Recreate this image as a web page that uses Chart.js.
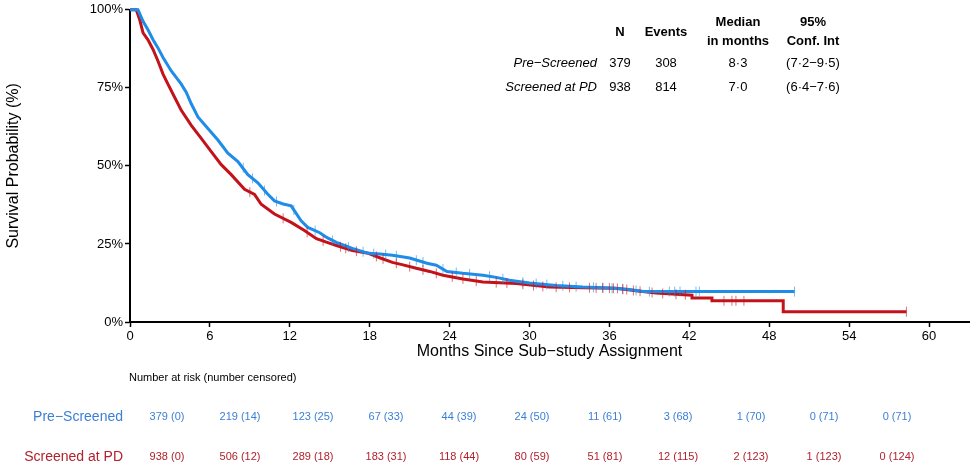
<!DOCTYPE html>
<html lang="en">
<head>
<meta charset="UTF-8">
<title>Survival by screening group</title>
<script src="https://cdn.jsdelivr.net/npm/chart.js"></script>
<style>
    html, body { margin: 0; padding: 0; background: #fff; }
    .chart-container { width: 975px; height: 470px; }
</style>
</head>
<body>
<div class="chart-container">
    <canvas id="kmChart" width="975" height="470"></canvas>
</div>
<script>
// Kaplan-Meier curves (months, survival %)
const preTimes = [0, 0.6, 0.98, 1.35, 1.73, 2.1, 2.48, 3.1, 3.85, 4.22, 4.6, 5.1, 5.85, 6.6, 7.35, 8.1, 8.85, 9.6, 10.35, 10.85, 11.5, 12.1, 12.85, 13.35, 14.25, 14.8, 15.5, 16.1, 16.7, 17.3, 17.9, 18.8, 19.7, 21.0, 22.3, 23.0, 23.8, 25.0, 26.5, 27.5, 28.5, 30.0, 32.0, 34.0, 36.0, 37.5, 38.5, 49.9];
const preSurv  = [100, 100, 96.3, 93.6, 90.4, 87.8, 84.7, 80.4, 76.2, 73.6, 69.9, 65.7, 62, 58.3, 54.1, 51.4, 47.2, 44.6, 40.9, 38.8, 37.8, 37.2, 32.4, 30.3, 28.6, 27, 25.5, 24.5, 23.6, 22.8, 22, 21.8, 21.4, 20.5, 18.8, 18.2, 16.2, 15.6, 15, 14.3, 13.4, 12.5, 11.7, 11.2, 10.9, 10.4, 9.75, 9.75];

const pdTimes = [0, 0.47, 0.73, 0.98, 1.35, 1.73, 2.1, 2.48, 2.85, 3.35, 3.85, 4.6, 5.35, 6.1, 6.85, 7.6, 8.6, 9.35, 9.85, 10.85, 12.1, 13.1, 14.0, 14.8, 15.5, 16.7, 17.9, 18.8, 19.7, 20.5, 21.5, 22.5, 23.5, 25.0, 26.5, 29.0, 31.5, 34.0, 36.5, 38.0, 39.5, 41.0, 42.2, 42.2, 43.7, 43.7, 49.05, 49.05, 58.3];
const pdSurv  = [100, 100, 96.8, 92.6, 90.4, 87.3, 83.6, 79.4, 76.2, 72, 67.8, 63, 58.8, 54.6, 50.4, 47.2, 42.5, 40.9, 37.7, 34.6, 31.9, 29.3, 26.7, 25.5, 24.5, 22.9, 22, 20.5, 19.1, 18.3, 17.2, 16.2, 15, 13.8, 12.8, 12.3, 11.2, 11, 10.8, 10, 9.3, 8.9, 8.6, 7.7, 7.7, 6.8, 6.8, 3.3, 3.3];

// censoring marks (months, survival %)
const preCensorT = [8.5, 9.2, 10.1, 11.0, 12.3, 13.9, 15.2, 16.4, 17.5, 18.3, 19.2, 20.0, 21.5, 22.0, 23.5, 24.5, 25.5, 27.0, 28.0, 29.5, 30.5, 31.3, 32.5, 33.5, 34.8, 35.5, 36.2, 37.0, 38.0, 39.0, 40.5, 40.9, 41.3, 42.5, 42.75, 49.9];
const preCensorS = [49.4, 46.0, 42.1, 38.6, 35.9, 29.3, 26.1, 24.0, 22.5, 21.9, 21.6, 21.2, 19.8, 19.2, 17.0, 15.85, 15.4, 14.65, 13.85, 12.8, 12.3, 12.0, 11.6, 11.3, 11.1, 11.0, 10.8, 10.6, 10.1, 9.75, 9.75, 9.75, 9.75, 9.75, 9.75, 9.75];
const pdCensorT = [9.0, 11.5, 13.3, 14.5, 15.8, 16.2, 17.0, 18.5, 19.0, 20.0, 21.0, 22.0, 23.0, 24.2, 25.0, 26.0, 27.5, 28.3, 29.5, 30.3, 31.0, 32.0, 33.0, 34.5, 35.0, 35.5, 36.0, 36.3, 36.6, 37.0, 37.3, 37.8, 38.3, 39.2, 40.0, 41.0, 41.7, 44.6, 45.2, 45.5, 46.1, 58.3];
const pdCensorS = [41.6, 33.2, 28.7, 26.0, 24.1, 23.6, 22.7, 21.0, 20.2, 18.8, 17.75, 16.7, 15.6, 14.45, 13.8, 13.1, 12.6, 12.45, 12.1, 11.7, 11.4, 11.15, 11.1, 10.95, 10.9, 10.9, 10.85, 10.8, 10.75, 10.5, 10.4, 10.1, 9.85, 9.45, 9.15, 8.9, 8.75, 6.8, 6.8, 6.8, 6.8, 3.3];

const groups = ['Pre−Screened', 'Screened at PD'];
const nPatients = ['379', '938'];
const nEvents = ['308', '814'];
const medians = ['8·3', '7·0'];
const confInts = ['(7·2−9·5)', '(6·4−7·6)'];

const riskTimes = [0, 6, 12, 18, 24, 30, 36, 42, 48, 54, 60];
const preRisk = ['379 (0)', '219 (14)', '123 (25)', '67 (33)', '44 (39)', '24 (50)', '11 (61)', '3 (68)', '1 (70)', '0 (71)', '0 (71)'];
const pdRisk  = ['938 (0)', '506 (12)', '289 (18)', '183 (31)', '118 (44)', '80 (59)', '51 (81)', '12 (115)', '2 (123)', '1 (123)', '0 (124)'];

const BLUE = '#1e8ce8';
const RED = '#c4121a';
const BLUE_TXT = '#3b7fd4';
const RED_TXT = '#b0222c';
const FONT = '"Liberation Sans", Arial, sans-serif';

function pairs(ts, ss) {
    return ts.map((t, i) => ({ x: t, y: ss[i] }));
}

const textPlugin = {
    id: 'texts',
    afterDraw(chart) {
        const c = chart.ctx;
        const area = chart.chartArea;
        c.save();
        c.fillStyle = '#000';
        c.textBaseline = 'middle';

        // axis titles
        c.font = '16px ' + FONT;
        c.textAlign = 'center';
        c.fillText('Months Since Sub−study Assignment', (area.left + area.right) / 2, 352);
        c.save();
        c.translate(14, (area.top + area.bottom) / 2);
        c.rotate(-Math.PI / 2);
        c.fillText('Survival Probability (%)', 0, 0);
        c.restore();

        // summary table
        c.font = 'bold 13px ' + FONT;
        c.fillText('N', 620, 32);
        c.fillText('Events', 666, 32);
        c.fillText('Median', 738, 22);
        c.fillText('in months', 738, 41);
        c.fillText('95%', 813, 22);
        c.fillText('Conf. Int', 813, 41);
        const rowY = [63, 87];
        groups.forEach((g, i) => {
            c.font = 'italic 13px ' + FONT;
            c.textAlign = 'right';
            c.fillText(g, 597, rowY[i]);
            c.font = '13px ' + FONT;
            c.textAlign = 'center';
            c.fillText(nPatients[i], 620, rowY[i]);
            c.fillText(nEvents[i], 666, rowY[i]);
            c.fillText(medians[i], 738, rowY[i]);
            c.fillText(confInts[i], 813, rowY[i]);
        });

        // number at risk
        c.font = '11px ' + FONT;
        c.textAlign = 'left';
        c.fillText('Number at risk (number censored)', 129, 378);
        c.font = '14px ' + FONT;
        c.textAlign = 'right';
        c.fillStyle = BLUE_TXT;
        c.fillText(groups[0], 123, 417);
        c.fillStyle = RED_TXT;
        c.fillText(groups[1], 123, 457);
        c.font = '11px ' + FONT;
        c.textAlign = 'center';
        riskTimes.forEach((t, i) => {
            const x = 167 + i * 73;
            c.fillStyle = BLUE_TXT;
            c.fillText(preRisk[i], x, 417);
            c.fillStyle = RED_TXT;
            c.fillText(pdRisk[i], x, 457);
        });
        c.restore();
    }
};

const ctx = document.getElementById('kmChart').getContext('2d');
const kmChart = new Chart(ctx, {
    type: 'line',
    data: {
        datasets: [
            {
                label: 'Screened at PD censored',
                type: 'scatter',
                data: pairs(pdCensorT, pdCensorS),
                pointStyle: 'line',
                rotation: 90,
                radius: 5,
                borderWidth: 1,
                borderColor: 'rgba(196,18,26,0.6)',
                clip: 6
            },
            {
                label: 'Pre-Screened censored',
                type: 'scatter',
                data: pairs(preCensorT, preCensorS),
                pointStyle: 'line',
                rotation: 90,
                radius: 5,
                borderWidth: 1,
                borderColor: 'rgba(30,140,232,0.6)',
                clip: 6
            },
            {
                label: groups[0],
                data: pairs(preTimes, preSurv),
                borderColor: BLUE,
                borderWidth: 3,
                pointRadius: 0,
                tension: 0,
                fill: false,
                clip: 6
            },
            {
                label: groups[1],
                data: pairs(pdTimes, pdSurv),
                borderColor: RED,
                borderWidth: 3,
                pointRadius: 0,
                tension: 0,
                fill: false,
                clip: 6
            }
        ]
    },
    options: {
        responsive: false,
        animation: false,
        events: [],
        layout: { padding: { top: 6, right: 4, left: 0, bottom: 0 } },
        plugins: {
            legend: { display: false },
            tooltip: { enabled: false }
        },
        scales: {
            x: {
                type: 'linear',
                min: 0,
                max: 63,
                afterFit: s => { s.height = 148; },
                ticks: {
                    stepSize: 6,
                    includeBounds: false,
                    color: '#000',
                    padding: 2,
                    font: { size: 13, family: FONT }
                },
                grid: { drawOnChartArea: false, tickLength: 5, tickColor: '#000', tickWidth: 1.5 },
                border: { color: '#000', width: 2 }
            },
            y: {
                min: 0,
                max: 100,
                afterFit: s => { s.width = 130; },
                ticks: {
                    stepSize: 25,
                    color: '#000',
                    padding: 2,
                    callback: v => v + '%',
                    font: { size: 13, family: FONT }
                },
                grid: { drawOnChartArea: false, tickLength: 5, tickColor: '#000', tickWidth: 1.5 },
                border: { color: '#000', width: 2 }
            }
        }
    },
    plugins: [textPlugin]
});
</script>
</body>
</html>
